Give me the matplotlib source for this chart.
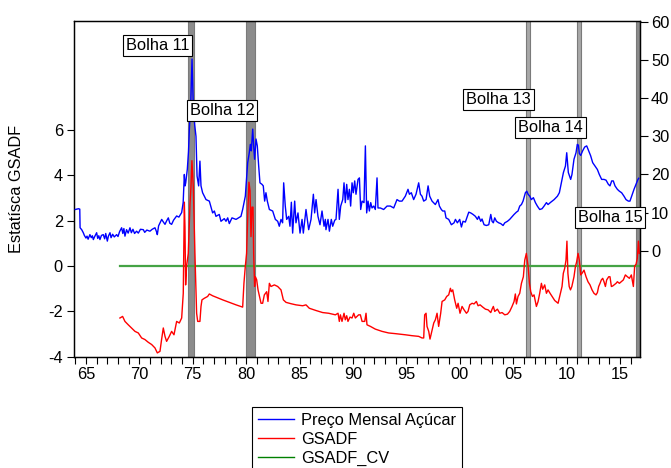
import matplotlib
matplotlib.use("Agg")
import matplotlib.pyplot as plt
import numpy as np

# monthly sugar price (right axis)
price_t = [
    1964.00, 1964.30, 1964.42, 1964.45, 1964.60, 1964.75, 1964.85, 1965.00, 1965.10, 1965.20,
    1965.37, 1965.50, 1965.60, 1965.69, 1965.80, 1966.00, 1966.10, 1966.20, 1966.31, 1966.45,
    1966.62, 1966.75, 1966.85, 1967.00, 1967.10, 1967.25, 1967.35, 1967.50, 1967.65, 1967.87,
    1968.00, 1968.15, 1968.34, 1968.45, 1968.55, 1968.65, 1968.80, 1968.95, 1969.12, 1969.25,
    1969.40, 1969.55, 1969.74, 1969.90, 1970.10, 1970.37, 1970.50, 1970.70, 1970.99, 1971.20,
    1971.46, 1971.60, 1971.68, 1971.80, 1972.09, 1972.25, 1972.40, 1972.55, 1972.71, 1972.85,
    1973.02, 1973.20, 1973.49, 1973.70, 1973.96, 1974.10, 1974.21, 1974.28, 1974.34, 1974.49,
    1974.60, 1974.68, 1974.80, 1974.93, 1975.05, 1975.18, 1975.30, 1975.40, 1975.55, 1975.67,
    1975.77, 1975.92, 1976.24, 1976.55, 1976.86, 1977.02, 1977.17, 1977.48, 1977.64, 1977.95,
    1978.11, 1978.27, 1978.42, 1978.67, 1979.05, 1979.51, 1979.67, 1979.92, 1980.14, 1980.29,
    1980.39, 1980.48, 1980.61, 1980.70, 1980.79, 1980.92, 1981.04, 1981.17, 1981.29, 1981.48,
    1981.60, 1981.73, 1981.85, 1981.98, 1982.17, 1982.48, 1982.73, 1982.95, 1983.10, 1983.26,
    1983.41, 1983.51, 1983.66, 1983.79, 1983.98, 1984.10, 1984.23, 1984.35, 1984.54, 1984.66,
    1984.85, 1985.04, 1985.23, 1985.35, 1985.60, 1985.85, 1986.07, 1986.29, 1986.41, 1986.54,
    1986.72, 1986.91, 1987.10, 1987.29, 1987.41, 1987.47, 1987.66, 1987.79, 1987.97, 1988.10,
    1988.29, 1988.41, 1988.60, 1988.72, 1988.85, 1989.04, 1989.16, 1989.28, 1989.41, 1989.53,
    1989.66, 1989.78, 1989.91, 1990.03, 1990.16, 1990.28, 1990.47, 1990.60, 1990.72, 1990.85,
    1991.03, 1991.16, 1991.28, 1991.41, 1991.53, 1991.66, 1991.78, 1991.94, 1992.09, 1992.25,
    1992.34, 1992.56, 1992.87, 1993.19, 1993.50, 1993.81, 1994.12, 1994.34, 1994.59, 1994.90,
    1995.15, 1995.28, 1995.46, 1995.68, 1995.90, 1996.15, 1996.31, 1996.46, 1996.62, 1996.84,
    1997.03, 1997.18, 1997.40, 1997.71, 1997.96, 1998.09, 1998.27, 1998.40, 1998.59, 1998.71,
    1998.96, 1999.21, 1999.46, 1999.59, 1999.77, 1999.99, 2000.15, 2000.30, 2000.52, 2000.71,
    2000.84, 2001.02, 2001.24, 2001.46, 2001.65, 2001.77, 2001.96, 2002.08, 2002.27, 2002.49,
    2002.71, 2002.90, 2003.02, 2003.14, 2003.27, 2003.43, 2003.64, 2003.83, 2004.05, 2004.21,
    2004.46, 2004.67, 2004.89, 2005.08, 2005.30, 2005.45, 2005.61, 2005.77, 2005.92, 2006.14,
    2006.27, 2006.39, 2006.55, 2006.70, 2006.89, 2007.08, 2007.26, 2007.48, 2007.70, 2007.89,
    2008.11, 2008.26, 2008.51, 2008.83, 2009.14, 2009.32, 2009.51, 2009.70, 2009.89, 2010.01,
    2010.16, 2010.38, 2010.50, 2010.69, 2010.88, 2011.00, 2011.10, 2011.19, 2011.32, 2011.50,
    2011.69, 2011.88, 2012.06, 2012.25, 2012.44, 2012.66, 2012.88, 2013.06, 2013.28, 2013.50,
    2013.69, 2013.91, 2014.06, 2014.22, 2014.37, 2014.53, 2014.75, 2014.94, 2015.15, 2015.37,
    2015.56, 2015.78, 2015.93, 2016.09, 2016.31, 2016.50, 2016.68, 2016.75,
]
price_v = [
    10.8, 11.0, 10.9, 6.0, 5.5, 4.7, 4.0, 3.3, 3.8, 3.0,
    4.2, 3.4, 3.9, 2.9, 3.6, 4.7, 3.2, 3.9, 2.9, 4.0,
    4.2, 3.1, 4.5, 2.5, 3.8, 4.7, 3.4, 4.3, 3.6, 4.2,
    3.7, 5.0, 6.0, 4.5, 5.8, 3.8, 5.5, 4.6, 6.0, 4.7,
    5.6, 4.5, 5.1, 4.6, 5.6, 5.5, 4.8, 5.4, 5.1, 5.6,
    6.0, 5.0, 4.2, 6.5, 8.2, 7.5, 6.9, 7.8, 8.6, 7.2,
    6.9, 8.0, 9.1, 8.8, 10.0, 12.6, 20.0, 17.0, 17.8, 21.4,
    26.0, 31.9, 38.0, 50.3, 38.0, 33.0, 30.0, 19.6, 17.0, 23.5,
    17.0, 15.2, 13.4, 13.0, 9.9, 10.4, 9.0, 9.5, 7.7, 8.4,
    7.7, 8.6, 7.1, 8.6, 8.2, 9.0, 10.8, 14.3, 23.1, 25.7,
    27.9, 26.2, 31.9, 27.5, 24.0, 29.3, 27.5, 22.2, 17.8, 17.4,
    17.0, 13.0, 15.2, 13.0, 10.8, 10.4, 8.2, 7.7, 6.4, 8.2,
    7.3, 17.8, 11.7, 8.2, 9.0, 6.4, 12.7, 4.6, 13.0, 7.3,
    9.9, 4.6, 8.2, 4.6, 10.8, 5.5, 8.2, 14.8, 9.9, 13.4,
    9.0, 6.8, 10.4, 6.4, 8.2, 5.5, 8.2, 5.1, 8.2, 6.4,
    8.0, 8.2, 16.1, 8.2, 11.7, 13.4, 17.8, 12.6, 17.4, 13.4,
    16.1, 11.7, 17.8, 15.2, 18.3, 14.8, 18.7, 19.1, 10.8, 13.0,
    12.6, 27.5, 9.9, 13.0, 10.4, 12.6, 11.2, 11.7, 10.8, 19.1,
    11.2, 11.2, 10.8, 11.7, 11.7, 11.2, 13.4, 13.0, 13.0, 14.3,
    16.1, 14.8, 15.2, 13.4, 14.8, 17.8, 14.8, 14.3, 13.0, 13.4,
    17.0, 14.3, 13.0, 12.1, 13.4, 11.7, 10.8, 10.4, 10.4, 8.6,
    8.2, 6.8, 7.3, 8.2, 7.3, 8.2, 6.2, 7.7, 7.5, 9.0,
    10.1, 9.9, 9.5, 9.0, 8.2, 9.0, 7.7, 8.3, 6.8, 6.6,
    6.8, 9.5, 7.7, 7.3, 8.6, 7.7, 7.3, 7.1, 6.6, 7.3,
    7.7, 8.2, 8.9, 9.5, 10.1, 10.4, 11.7, 12.1, 13.0, 15.2,
    15.6, 14.8, 14.3, 13.4, 13.9, 12.6, 11.7, 10.8, 11.0, 11.7,
    12.6, 12.1, 12.7, 13.4, 14.3, 15.2, 17.8, 20.5, 22.2, 25.7,
    20.5, 18.7, 20.0, 24.0, 25.7, 27.9, 27.7, 25.5, 25.0, 26.2,
    27.2, 27.5, 26.2, 24.9, 23.1, 22.2, 21.3, 20.0, 18.7, 18.7,
    18.5, 17.4, 17.0, 18.3, 18.3, 17.0, 16.1, 15.6, 15.2, 14.3,
    13.4, 13.0, 13.0, 14.3, 16.1, 17.4, 18.7, 19.0,
]

# GSADF statistic (left axis)
gsadf_t = [
    1968.18, 1968.43, 1968.65, 1968.96, 1969.27, 1969.59, 1969.90, 1970.21, 1970.52, 1970.83,
    1971.15, 1971.46, 1971.68, 1971.93, 1972.08, 1972.24, 1972.40, 1972.55, 1972.80, 1973.02,
    1973.24, 1973.49, 1973.74, 1973.96, 1974.11, 1974.21, 1974.27, 1974.33, 1974.42, 1974.58,
    1974.74, 1974.83, 1974.92, 1975.05, 1975.20, 1975.36, 1975.46, 1975.67, 1975.77, 1975.86,
    1976.08, 1976.39, 1976.55, 1976.86, 1977.17, 1977.80, 1978.42, 1979.05, 1979.67, 1979.79,
    1979.92, 1980.04, 1980.17, 1980.26, 1980.36, 1980.45, 1980.54, 1980.64, 1980.70, 1980.79,
    1980.86, 1980.98, 1981.11, 1981.39, 1981.54, 1981.70, 1981.92, 1982.04, 1982.17, 1982.32,
    1982.64, 1982.95, 1983.26, 1983.48, 1983.73, 1984.20, 1984.66, 1985.29, 1985.60, 1985.91,
    1986.54, 1987.16, 1987.72, 1988.35, 1988.60, 1988.72, 1988.82, 1988.97, 1989.16, 1989.28,
    1989.41, 1989.53, 1989.72, 1989.91, 1990.07, 1990.22, 1990.53, 1990.69, 1990.85, 1991.10,
    1991.22, 1991.31, 1991.63, 1992.09, 1992.72, 1993.34, 1993.97, 1994.90, 1995.53, 1996.15,
    1996.46, 1996.62, 1996.71, 1996.84, 1996.93, 1997.09, 1997.21, 1997.34, 1997.56, 1997.71,
    1997.87, 1998.02, 1998.21, 1998.34, 1998.59, 1998.77, 1998.96, 1999.12, 1999.21, 1999.34,
    1999.52, 1999.71, 1999.84, 2000.02, 2000.21, 2000.40, 2000.62, 2000.77, 2000.93, 2001.15,
    2001.33, 2001.55, 2001.71, 2001.90, 2002.15, 2002.40, 2002.65, 2002.90, 2003.02, 2003.14,
    2003.27, 2003.52, 2003.74, 2003.96, 2004.21, 2004.46, 2004.67, 2004.89, 2005.08, 2005.20,
    2005.30, 2005.45, 2005.61, 2005.77, 2005.95, 2006.08, 2006.23, 2006.39, 2006.52, 2006.64,
    2006.80, 2006.95, 2007.17, 2007.33, 2007.48, 2007.64, 2007.76, 2007.95, 2008.11, 2008.26,
    2008.45, 2008.64, 2008.89, 2009.20, 2009.38, 2009.57, 2009.69, 2009.82, 2009.94, 2010.03,
    2010.12, 2010.24, 2010.36, 2010.49, 2010.69, 2010.82, 2010.94, 2011.07, 2011.19, 2011.32,
    2011.44, 2011.63, 2011.82, 2012.00, 2012.19, 2012.38, 2012.56, 2012.75, 2012.88, 2013.00,
    2013.13, 2013.25, 2013.38, 2013.50, 2013.63, 2013.75, 2013.94, 2014.06, 2014.19, 2014.31,
    2014.44, 2014.63, 2014.75, 2014.94, 2015.12, 2015.31, 2015.50, 2015.69, 2015.88, 2016.06,
    2016.25, 2016.37, 2016.50, 2016.62, 2016.72, 2016.80,
]
gsadf_v = [
    -2.29, -2.22, -2.44, -2.59, -2.73, -2.88, -2.95, -3.17, -3.24, -3.36,
    -3.46, -3.61, -3.83, -3.76, -3.24, -2.73, -3.10, -3.32, -3.10, -2.88,
    -3.03, -2.44, -2.51, -2.29, -1.20, 2.82, 1.73, -0.83, 0.00, 0.56,
    2.75, 3.48, 4.65, 3.48, 0.56, -2.08, -2.44, -2.44, -1.78, -1.49,
    -1.42, -1.34, -1.23, -1.31, -1.37, -1.49, -1.60, -1.71, -1.81, -0.76,
    0.00, 0.56, 2.60, 3.70, 3.33, 1.30, 2.60, 2.60, 0.56, -0.90,
    -0.47, -0.60, -1.05, -1.64, -1.64, -1.27, -1.13, -1.56, -0.76, -0.90,
    -0.83, -0.90, -1.05, -1.49, -1.60, -1.66, -1.71, -1.75, -1.71, -1.86,
    -1.96, -2.05, -2.08, -2.15, -2.08, -2.44, -2.15, -2.44, -2.08, -2.37,
    -2.19, -2.44, -2.25, -2.29, -2.08, -2.29, -2.15, -2.15, -2.44, -2.44,
    -2.08, -2.59, -2.66, -2.78, -2.88, -2.95, -2.98, -3.03, -3.07, -3.10,
    -3.17, -3.17, -2.15, -2.08, -2.66, -2.88, -3.22, -2.95, -2.51, -2.37,
    -2.08, -2.66, -2.08, -1.56, -1.49, -1.34, -1.27, -0.98, -1.13, -1.05,
    -1.49, -1.86, -1.64, -2.08, -1.78, -1.93, -2.08, -2.00, -1.71, -1.64,
    -1.67, -1.56, -1.75, -1.71, -1.81, -1.90, -1.93, -2.05, -1.90, -1.78,
    -2.00, -1.90, -2.08, -2.05, -2.15, -2.12, -2.00, -1.78, -1.56, -1.23,
    -1.67, -1.34, -1.20, -0.76, -0.47, 0.26, 0.56, 0.00, -0.76, -1.13,
    -1.34, -1.27, -1.78, -1.56, -1.20, -0.76, -1.02, -0.83, -1.20, -1.05,
    -1.20, -1.34, -1.52, -1.64, -1.27, -0.90, -0.32, -0.10, 0.26, 1.10,
    -0.32, -0.90, -1.05, -0.90, -0.47, -0.03, 0.19, 0.56, 0.26, -0.39,
    -0.32, -0.18, -0.47, -0.69, -0.83, -1.05, -1.20, -1.27, -1.17, -0.90,
    -0.76, -0.61, -0.54, -0.69, -0.90, -0.61, -0.47, -0.47, -0.90, -0.88,
    -0.83, -0.76, -0.69, -0.76, -0.69, -0.61, -0.39, -0.47, -0.54, -0.39,
    -0.90, 0.00, 0.08, 0.34, 1.10, 0.56,
]
gsadf_cv = 0.0

# date-stamped bubble periods
bubble_start = [1974.52, 1979.98, 2006.17, 2010.94, 2016.50]
bubble_end = [1975.11, 1980.80, 2006.54, 2011.31, 2016.87]
bubble_labels = ["Bolha 11", "Bolha 12", "Bolha 13", "Bolha 14", "Bolha 15"]

year_ticks = list(range(1965, 2016, 5))
year_labels = [f"{y % 100:02d}" for y in year_ticks]

plt.rcParams["font.family"] = ["Liberation Sans", "DejaVu Sans"]
plt.rcParams["font.size"] = 11.8
plt.rcParams["axes.unicode_minus"] = False

W, H = 671, 468
fig = plt.figure(figsize=(W / 100, H / 100), dpi=100)
ax = fig.add_axes([74 / W, 1 - 357 / H, 566 / W, 336 / H])
ax2 = ax.twinx()

band_fill = ["#8c8c8c", "#8c8c8c", "#a8a8a8", "#a8a8a8", "#8a8a8a"]
for s, e, c in zip(bubble_start, bubble_end, band_fill):
    ax.axvspan(s, e, fc=c, ec="#7a7a7a", lw=0.8, zorder=0)

cv_line, = ax.plot(gsadf_t, np.full(len(gsadf_t), gsadf_cv), color="#45a345", lw=1.6, zorder=2)
g_line, = ax.plot(gsadf_t, gsadf_v, color="#ff0000", lw=1.0, zorder=3)
p_line, = ax2.plot(price_t, price_v, color="#0000ff", lw=1.0, zorder=3)

ax.set_xlim(1963.88, 2016.87)
ax.set_ylim(-4.01, 10.81)
ax.set_yticks([-4, -2, 0, 2, 4, 6])
ax.set_xticks(year_ticks)
ax.set_xticklabels(year_labels)
ax.set_xticks(range(1964, 2017), minor=True)
ax.tick_params(axis="both", which="both", direction="out", length=5, width=0.8)
ax.tick_params(axis="y", pad=3)
ax.tick_params(axis="x", pad=2)

ax2.set_ylim(-27.93, 60.29)
ax2.set_yticks(range(0, 70, 10))
ax2.tick_params(axis="y", direction="out", length=6, width=0.8, pad=2)

for a in (ax, ax2):
    for sp in a.spines.values():
        sp.set_linewidth(0.9)
        sp.set_color("black")

fig.text(17 / W, 1 - 189 / H, "Estatísca GSADF", rotation=90, ha="center", va="center")

label_pos = [(0.1475, 0.926), (0.2615, 0.733), (0.7496, 0.767), (0.8419, 0.684), (0.947, 0.415)]
for txt, (fx, fy) in zip(bubble_labels, label_pos):
    ax2.text(fx, fy, txt, transform=ax2.transAxes, ha="center", va="center", zorder=6,
             bbox=dict(boxstyle="square,pad=0.18", fc="white", ec="black", lw=0.8))

leg = fig.legend([p_line, g_line, cv_line], ["Preço Mensal Açúcar", "GSADF", "GSADF_CV"],
                 loc="upper left", bbox_to_anchor=(252 / W, 1 - 407 / H), borderaxespad=0,
                 fancybox=False, edgecolor="black", framealpha=1, borderpad=0.35,
                 handlelength=2.2, handletextpad=0.45, labelspacing=0.25)
leg.get_frame().set_linewidth(0.8)
leg.get_lines()[2].set_color("#008000")
leg.get_lines()[2].set_linewidth(1.0)

fig.savefig("out.png", dpi=100)
